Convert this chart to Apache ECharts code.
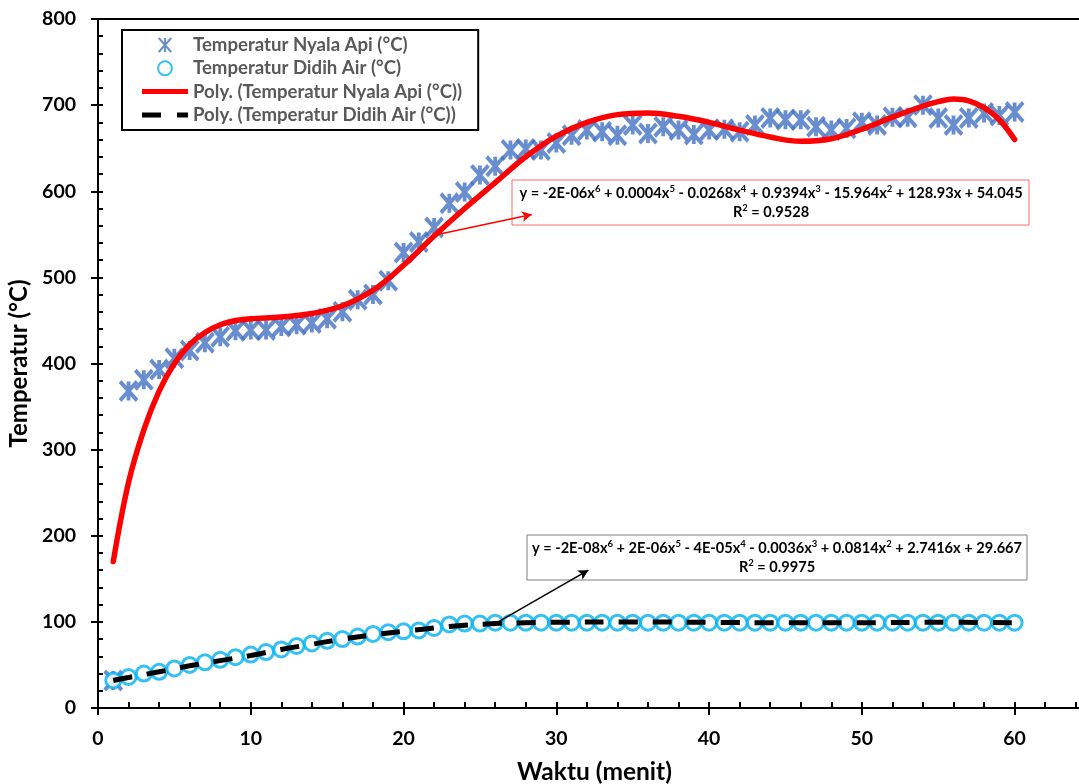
<!DOCTYPE html>
<html><head><meta charset="utf-8">
<script src="https://cdn.jsdelivr.net/npm/echarts@6/dist/echarts.min.js"></script>
<style>html,body{margin:0;padding:0;background:#fff}#c{width:1079px;height:784px}</style>
</head><body><div id="c"></div>
<script>
// ---- data ----
const minutes = [1,2,3,4,5,6,7,8,9,10,11,12,13,14,15,16,17,18,19,20,21,22,23,24,25,26,27,28,29,30,
                 31,32,33,34,35,36,37,38,39,40,41,42,43,44,45,46,47,48,49,50,51,52,53,54,55,56,57,58,59,60];
const nyalaApi = [32,368,381,393,406,415,424,431,438,439,439,443,445,447,452,460,474,480,496,529,
                  541,558,586,599,619,629,648,649,648,656,665,671,669,665,677,667,675,671,666,671,
                  672,669,677,685,683,683,675,671,673,680,677,686,686,700,685,677,685,691,688,692];
const didihAir = [32,36,40,42,46,50,53,56,59,62,65,68,72,75,78,80,83,86,88,89,
                  90,93,97,98,98,99,99,99,99,99,99,99,99,99,99,99,99,99,99,99,
                  99,99,99,99,99,99,99,99,99,99,99,99,99,99,99,99,99,99,99,99];
const polyNyalaX = [1,2,3,4,5,6,7,8,9,10,12,14,16,18,20,22,24,26,28,30,32,34,36,38,40,42,44,46,48,50,52,54,55,56,57,58,59,60];
const polyNyalaY = [170,262,323,368,400,422,436,445,450,452,454,458,467,485,514,548,580,610,640,664,680,689,691,687,680,671,663,658,661,672,686,699,704,707,705,697,683,660];
const polyDidihX = [1,2,4,6,8,10,12,14,16,18,20,22,24,26,28,30,35,40,45,50,55,60];
const polyDidihY = [32,35.5,42,49,55,61,68,74,80,85,89,93,96,98,99,99.5,100,99.5,99,99,99.5,99];
const xTickLabels = [0,10,20,30,40,50,60];
const yTickLabels = [0,100,200,300,400,500,600,700,800];
const seriesNames = ['Temperatur Nyala Api (°C)','Temperatur Didih Air (°C)',
  'Poly. (Temperatur Nyala Api (°C))','Poly. (Temperatur Didih Air (°C))'];
const eq1 = ['y = -2E-06x','6',' + 0.0004x','5',' - 0.0268x','4',' + 0.9394x','3',' - 15.964x','2',' + 128.93x + 54.045'];
const r1 = ['R','2',' = 0.9528'];
const eq2 = ['y = -2E-08x','6',' + 2E-06x','5',' - 4E-05x','4',' - 0.0036x','3',' + 0.0814x','2',' + 2.7416x + 29.667'];
const r2 = ['R','2',' = 0.9975'];

// ---- build ----
const FF = 'Lato, "Open Sans", sans-serif';
const pair = (xs, ys) => xs.map((x, i) => [x, ys[i]]);
const richLine = parts => parts.map((p, i) => (i % 2 ? '{s|' : '{n|') + p + '}').join('');
const eqText = (a, b) => richLine(a) + '\n' + richLine(b);
const rich = {
  n: {fontFamily: FF, fontWeight: 'bold', fontSize: 14.6, lineHeight: 19, fill: '#000'},
  s: {fontFamily: FF, fontWeight: 'bold', fontSize: 9.5, lineHeight: 12, verticalAlign: 'top', fill: '#000'}
};
const starPath = 'path://M0,0L16,18M16,0L0,18M8,0L8,18';
const solidIcon = 'path://M0,0H46V5H0Z';
const dashIcon = 'path://M0,0H19V5H0ZM35,0H46V5H35Z';
const xMax = 65;

const chart = echarts.init(document.getElementById('c'), null, {renderer: 'canvas'});
chart.setOption({
  backgroundColor: '#fff',
  animation: false,
  grid: {left: 98, right: -12, top: 19, bottom: 76, containLabel: false, outerBoundsMode: 'none'},
  legend: {
    orient: 'vertical', left: 122, top: 30,
    padding: [5, 16, 5, 20], itemGap: 3.3, itemWidth: 46, itemHeight: 14,
    borderColor: '#000', borderWidth: 2, backgroundColor: '#fff',
    textStyle: {fontFamily: FF, fontWeight: 'bold', fontSize: 18.6, color: '#595959', lineHeight: 20},
    data: [
      {name: seriesNames[0]},
      {name: seriesNames[1]},
      {name: seriesNames[2], icon: solidIcon, itemStyle: {color: '#FF0000'}},
      {name: seriesNames[3], icon: dashIcon, itemStyle: {color: '#000'}}
    ]
  },
  xAxis: [
    {type: 'value', min: 0, max: xMax, interval: 10, position: 'bottom',
     axisLine: {show: true, onZero: false, lineStyle: {color: '#000', width: 2}},
     axisTick: {show: true, inside: false, length: 7, lineStyle: {color: '#000', width: 2}},
     axisLabel: {margin: 21, fontFamily: FF, fontWeight: 'bold', fontSize: 19.5, color: '#000', showMaxLabel: false,
                 formatter: v => xTickLabels.indexOf(v) >= 0 ? String(v) : ''},
     splitLine: {show: false},
     name: 'Waktu (menit)', nameLocation: 'middle', nameGap: 52,
     nameTextStyle: {fontFamily: FF, fontWeight: 'bold', fontSize: 24.5, color: '#000'}},
    {type: 'value', min: 0, max: xMax, interval: 2, position: 'bottom',
     axisLine: {show: false, onZero: false}, axisTick: {show: true, inside: true, length: 6, lineStyle: {color: '#000', width: 2}},
     axisLabel: {show: false}, splitLine: {show: false}},
    {type: 'value', min: 0, max: xMax, position: 'top',
     axisLine: {show: true, onZero: false, lineStyle: {color: '#000', width: 2}},
     axisTick: {show: false}, axisLabel: {show: false}, splitLine: {show: false}}
  ],
  yAxis: [
    {type: 'value', min: 0, max: 800, interval: 100, position: 'left',
     axisLine: {show: true, onZero: false, lineStyle: {color: '#000', width: 2}},
     axisTick: {show: true, inside: false, length: 7, lineStyle: {color: '#000', width: 2}},
     axisLabel: {margin: 22, fontFamily: FF, fontWeight: 'bold', fontSize: 19.5, color: '#000',
                 formatter: v => yTickLabels.indexOf(v) >= 0 ? String(v) : ''},
     splitLine: {show: false},
     name: 'Temperatur (°C)', nameLocation: 'middle', nameGap: 64, nameRotate: 90,
     nameTextStyle: {fontFamily: FF, fontWeight: 'bold', fontSize: 24, color: '#000'}},
    {type: 'value', min: 0, max: 800, interval: 20, position: 'left',
     axisLine: {show: false, onZero: false}, axisTick: {show: true, inside: true, length: 5, lineStyle: {color: '#000', width: 2}},
     axisLabel: {show: false}, splitLine: {show: false}}
  ],
  series: [
    {name: seriesNames[0], type: 'scatter', data: pair(minutes, nyalaApi), symbol: starPath, symbolSize: [17, 19],
     itemStyle: {color: '#4472C4', borderColor: '#4472C4', borderWidth: 4}, z: 2},
    {name: seriesNames[1], type: 'scatter', data: pair(minutes, didihAir), symbol: 'circle', symbolSize: 15,
     itemStyle: {color: '#fff', borderColor: '#00B0F0', borderWidth: 3}, z: 2},
    {name: seriesNames[2], type: 'line', data: pair(polyNyalaX, polyNyalaY), smooth: 0.4, showSymbol: false, symbol: 'none',
     lineStyle: {color: '#FF0000', width: 5.5, cap: 'round'}, itemStyle: {color: '#FF0000'}, z: 3,
     markLine: {silent: true, symbol: ['none', 'arrow'], symbolSize: [8, 10], label: {show: false},
       lineStyle: {color: '#FF0000', width: 1.5, type: 'solid'},
       data: [[{coord: [22.3, 550]}, {coord: [28.4, 573]}]]}},
    {name: seriesNames[3], type: 'line', data: pair(polyDidihX, polyDidihY), smooth: 0.4, showSymbol: false, symbol: 'none',
     lineStyle: {color: '#000', width: 5, type: [19, 15]}, itemStyle: {color: '#000'}, z: 3,
     markLine: {silent: true, symbol: ['none', 'arrow'], symbolSize: [8, 10], label: {show: false},
       lineStyle: {color: '#000', width: 1.5, type: 'solid'},
       data: [[{coord: [26.2, 100]}, {coord: [32.1, 160]}]]}}
  ],
  graphic: [
    {type: 'rect', shape: {x: 512, y: 180, width: 517, height: 45}, style: {fill: '#fff', stroke: '#FF6B6B', lineWidth: 1}, z: 1},
    {type: 'text', x: 771, y: 203, style: {text: eqText(eq1, r1), rich: rich, align: 'center', verticalAlign: 'middle'}, z: 2},
    {type: 'rect', shape: {x: 527, y: 535, width: 500, height: 45}, style: {fill: '#fff', stroke: '#7F7F7F', lineWidth: 1}, z: 1},
    {type: 'text', x: 777, y: 558, style: {text: eqText(eq2, r2), rich: rich, align: 'center', verticalAlign: 'middle'}, z: 2}
  ]
});
</script></body></html>
